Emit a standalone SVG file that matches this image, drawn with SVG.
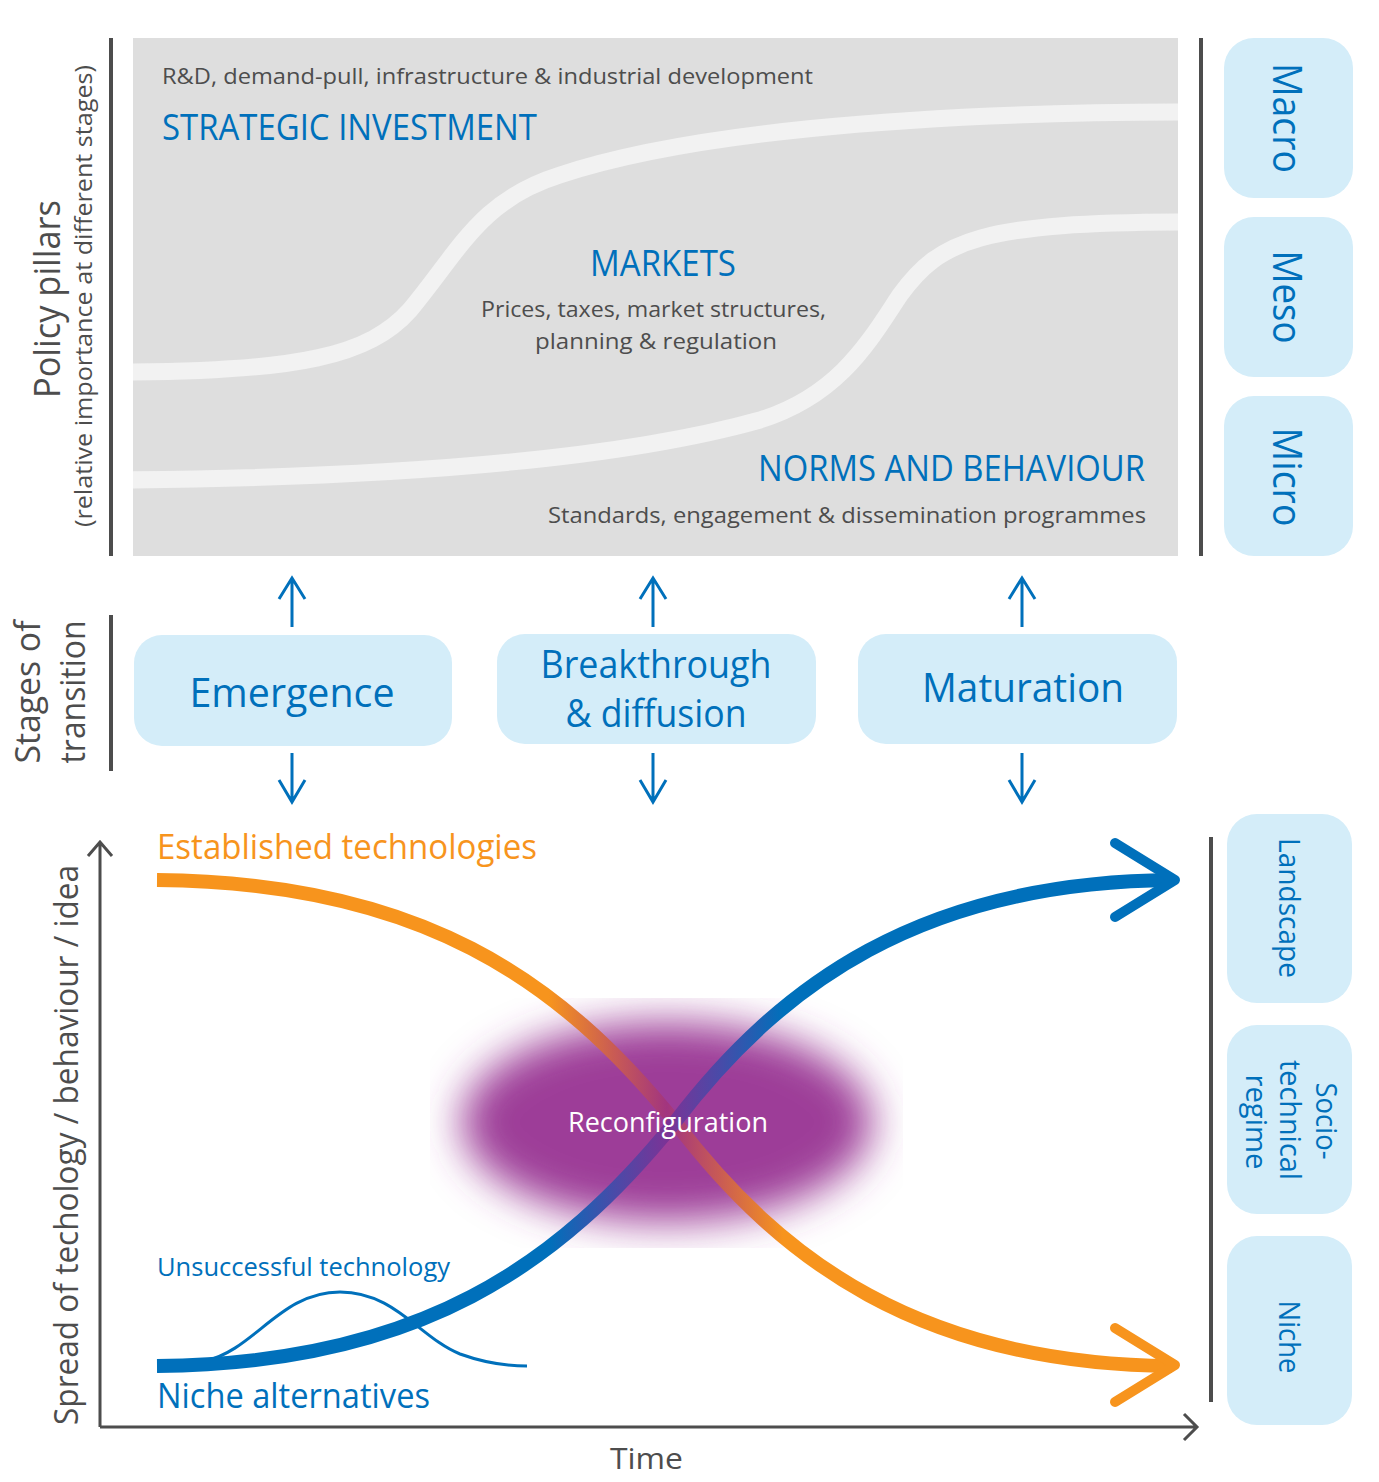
<svg xmlns="http://www.w3.org/2000/svg" width="1379" height="1482" viewBox="0 0 1379 1482">
<style>
text{font-family:"Open Sans","Noto Sans","DejaVu Sans",sans-serif}
.box{fill:#d4edf9}
.blue{fill:#0070bb}
.gray{fill:#4d4d4d}
.rule{stroke:#4d4d4d;stroke-width:4;fill:none}
.axis{stroke:#4d4d4d;stroke-width:3;fill:none}
.conn{stroke:#0070bb;stroke-width:3;fill:none}
.pillar{stroke:#f2f2f2;stroke-width:17;fill:none}
</style>
<defs>
<clipPath id="panelClip"><rect x="133" y="38" width="1045" height="518"/></clipPath>
<filter id="blur" filterUnits="userSpaceOnUse" x="430" y="998" width="473" height="250">
<feGaussianBlur stdDeviation="21"/>
</filter>
<linearGradient id="gOrange" gradientUnits="userSpaceOnUse" x1="157" y1="0" x2="1175" y2="0">
<stop offset="0.385" stop-color="#f7941d"/>
<stop offset="0.45" stop-color="#c85a55"/>
<stop offset="0.501" stop-color="#a2357f"/>
<stop offset="0.552" stop-color="#c85a55"/>
<stop offset="0.615" stop-color="#f7941d"/>
</linearGradient>
<linearGradient id="gBlue" gradientUnits="userSpaceOnUse" x1="157" y1="0" x2="1175" y2="0">
<stop offset="0.385" stop-color="#0070bb"/>
<stop offset="0.45" stop-color="#4a4aa8"/>
<stop offset="0.501" stop-color="#7b3396"/>
<stop offset="0.552" stop-color="#4a4aa8"/>
<stop offset="0.615" stop-color="#0070bb"/>
</linearGradient>
</defs>

<g id="policy-pillars-panel">
<rect x="133" y="38" width="1045" height="518" fill="#dedede"/>
<g clip-path="url(#panelClip)">
<path class="pillar" d="M120,372 C300,372 370,355 410,310 C460,250 480,200 560,175 C680,135 900,112 1190,112"/>
<path class="pillar" d="M120,480 C350,478 600,465 760,420 C840,395 870,340 900,295 C940,240 980,222 1190,222"/>
</g>
<text x="162" y="84" class="gray" font-size="22" textLength="651" lengthAdjust="spacingAndGlyphs">R&amp;D, demand-pull, infrastructure &amp; industrial development</text>
<text x="162" y="140" class="blue" font-size="36" textLength="375" lengthAdjust="spacingAndGlyphs">STRATEGIC INVESTMENT</text>
<text x="590" y="276" class="blue" font-size="36" textLength="146" lengthAdjust="spacingAndGlyphs">MARKETS</text>
<text x="481" y="317" class="gray" font-size="22" textLength="345" lengthAdjust="spacingAndGlyphs">Prices, taxes, market structures,</text>
<text x="535" y="349" class="gray" font-size="22" textLength="242" lengthAdjust="spacingAndGlyphs">planning &amp; regulation</text>
<text x="758" y="481" class="blue" font-size="36" textLength="387" lengthAdjust="spacingAndGlyphs">NORMS AND BEHAVIOUR</text>
<text x="548" y="523" class="gray" font-size="22" textLength="598" lengthAdjust="spacingAndGlyphs">Standards, engagement &amp; dissemination programmes</text>
</g>

<g id="left-labels">
<line class="rule" x1="111" y1="38" x2="111" y2="556"/>
<text transform="translate(60,299) rotate(-90)" text-anchor="middle" class="gray" font-size="36" textLength="198" lengthAdjust="spacingAndGlyphs">Policy pillars</text>
<text transform="translate(92,296) rotate(-90)" text-anchor="middle" class="gray" font-size="23" textLength="462" lengthAdjust="spacingAndGlyphs">(relative importance at different stages)</text>
<line class="rule" x1="111" y1="615" x2="111" y2="771"/>
<text transform="translate(40,692) rotate(-90)" text-anchor="middle" class="gray" font-size="34" textLength="143" lengthAdjust="spacingAndGlyphs">Stages of</text>
<text transform="translate(85,692) rotate(-90)" text-anchor="middle" class="gray" font-size="34" textLength="143" lengthAdjust="spacingAndGlyphs">transition</text>
</g>

<g id="scale-levels">
<line class="rule" x1="1201" y1="38" x2="1201" y2="556"/>
<g id="macro">
<rect class="box" x="1224" y="38" width="129" height="160" rx="30"/>
<text transform="translate(1273,118) rotate(90)" text-anchor="middle" class="blue" font-size="40" textLength="110" lengthAdjust="spacingAndGlyphs">Macro</text>
</g>
<g id="meso">
<rect class="box" x="1224" y="217" width="129" height="160" rx="30"/>
<text transform="translate(1273,297) rotate(90)" text-anchor="middle" class="blue" font-size="40" textLength="93" lengthAdjust="spacingAndGlyphs">Meso</text>
</g>
<g id="micro">
<rect class="box" x="1224" y="396" width="129" height="160" rx="30"/>
<text transform="translate(1273,477) rotate(90)" text-anchor="middle" class="blue" font-size="40" textLength="99" lengthAdjust="spacingAndGlyphs">Micro</text>
</g>
</g>

<g id="emergence">
<rect class="box" x="134" y="635" width="318" height="111" rx="28"/>
<text x="292" y="707" text-anchor="middle" class="blue" font-size="41" textLength="205" lengthAdjust="spacingAndGlyphs">Emergence</text>
</g>
<g id="breakthrough">
<rect class="box" x="497" y="634" width="319" height="110" rx="28"/>
<text x="656" y="678" text-anchor="middle" class="blue" font-size="38" textLength="231" lengthAdjust="spacingAndGlyphs">Breakthrough</text>
<text x="656" y="727" text-anchor="middle" class="blue" font-size="38" textLength="181" lengthAdjust="spacingAndGlyphs">&amp; diffusion</text>
</g>
<g id="maturation">
<rect class="box" x="858" y="634" width="319" height="110" rx="28"/>
<text x="1023" y="702" text-anchor="middle" class="blue" font-size="41" textLength="202" lengthAdjust="spacingAndGlyphs">Maturation</text>
</g>

<g id="connectors">
<path class="conn" d="M292,627 V579 M279,599 L292,578 L305,599"/>
<path class="conn" d="M292,753 V801 M279,780 L292,802 L305,780"/>
<path class="conn" d="M653,627 V579 M640,599 L653,578 L666,599"/>
<path class="conn" d="M653,753 V801 M640,780 L653,802 L666,780"/>
<path class="conn" d="M1022,627 V579 M1009,599 L1022,578 L1035,599"/>
<path class="conn" d="M1022,753 V801 M1009,780 L1022,802 L1035,780"/>
</g>

<g id="graph">
<path class="axis" d="M100,1427 V843 M88,856 L100,842 L112,856"/>
<path class="axis" d="M100,1427 H1196 M1184,1414 L1197,1427 L1184,1440"/>
<text transform="translate(78,1145) rotate(-90)" text-anchor="middle" class="gray" font-size="33" textLength="560" lengthAdjust="spacingAndGlyphs">Spread of techology / behaviour / idea</text>
<text x="610" y="1469" class="gray" font-size="30" textLength="73" lengthAdjust="spacingAndGlyphs">Time</text>

<g id="reconfiguration-blob">
<ellipse cx="667" cy="1122" rx="205" ry="100" fill="#9d3d98" filter="url(#blur)"/>
</g>

<g id="unsuccessful-technology">
<path d="M205,1361 C255,1350 280,1292 340,1292 C395,1292 420,1338 460,1354 C485,1363 505,1366 527,1366" fill="none" stroke="#0070bb" stroke-width="3"/>
<text x="157" y="1276" class="blue" font-size="26" textLength="293" lengthAdjust="spacingAndGlyphs">Unsuccessful technology</text>
</g>

<g id="established-technologies">
<path d="M157,880 C420,882 560,980 675,1122 C780,1260 920,1364 1172,1366" fill="none" stroke="url(#gOrange)" stroke-width="14"/>
<polyline points="1115,1328 1175,1365 1115,1402" fill="none" stroke="#f7941d" stroke-width="10" stroke-linecap="round" stroke-linejoin="round"/>
<text x="157" y="859" font-size="34" fill="#f7941d" textLength="380" lengthAdjust="spacingAndGlyphs">Established technologies</text>
</g>

<g id="niche-alternatives">
<path d="M157,1366 C420,1364 560,1264 675,1122 C780,985 920,882 1172,880" fill="none" stroke="url(#gBlue)" stroke-width="14"/>
<polyline points="1115,843 1175,880 1115,917" fill="none" stroke="#0070bb" stroke-width="10" stroke-linecap="round" stroke-linejoin="round"/>
<text x="157" y="1408" class="blue" font-size="34" textLength="273" lengthAdjust="spacingAndGlyphs">Niche alternatives</text>
</g>

<text x="668" y="1132" text-anchor="middle" fill="#ffffff" font-size="28" textLength="200" lengthAdjust="spacingAndGlyphs">Reconfiguration</text>
</g>

<g id="system-levels">
<line class="rule" x1="1211" y1="837" x2="1211" y2="1402"/>
<g id="landscape">
<rect class="box" x="1227" y="814" width="125" height="189" rx="30"/>
<text transform="translate(1279,908) rotate(90)" text-anchor="middle" class="blue" font-size="30" textLength="140" lengthAdjust="spacingAndGlyphs">Landscape</text>
</g>
<g id="socio-technical-regime">
<rect class="box" x="1227" y="1025" width="125" height="189" rx="30"/>
<text transform="translate(1316,1121) rotate(90)" text-anchor="middle" class="blue" font-size="30" textLength="77" lengthAdjust="spacingAndGlyphs">Socio-</text>
<text transform="translate(1280,1120) rotate(90)" text-anchor="middle" class="blue" font-size="30" textLength="120" lengthAdjust="spacingAndGlyphs">technical</text>
<text transform="translate(1246,1122) rotate(90)" text-anchor="middle" class="blue" font-size="30" textLength="95" lengthAdjust="spacingAndGlyphs">regime</text>
</g>
<g id="niche">
<rect class="box" x="1227" y="1236" width="125" height="189" rx="30"/>
<text transform="translate(1279,1337) rotate(90)" text-anchor="middle" class="blue" font-size="30" textLength="73" lengthAdjust="spacingAndGlyphs">Niche</text>
</g>
</g>
</svg>
